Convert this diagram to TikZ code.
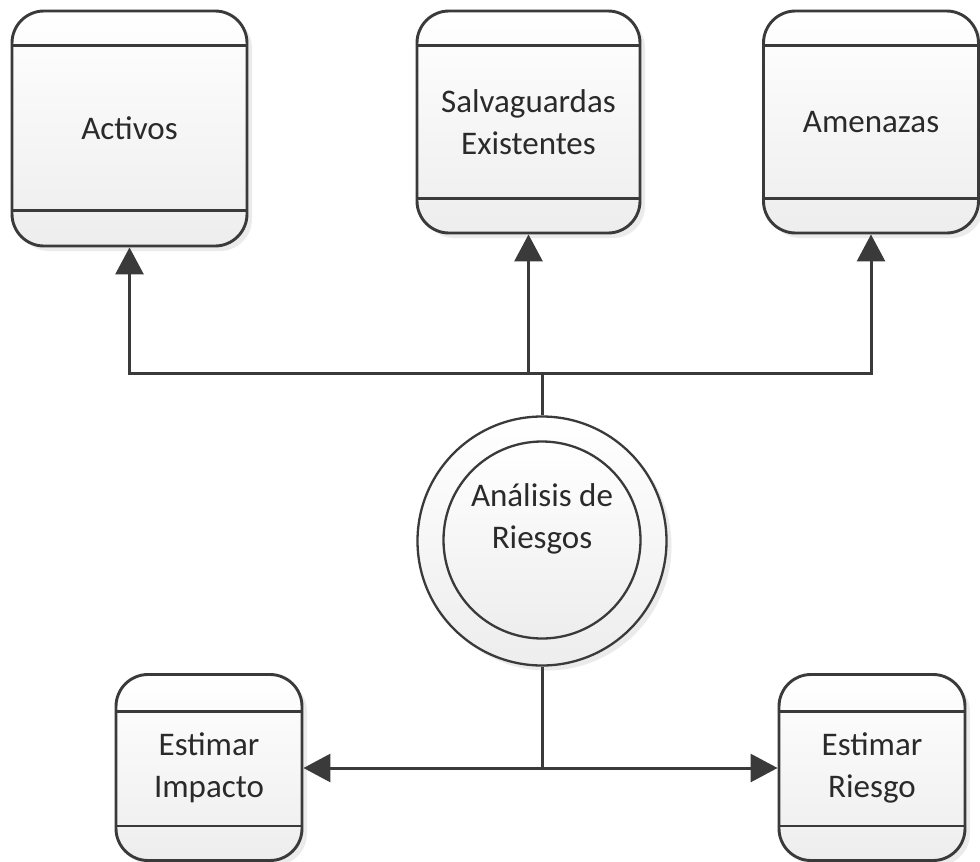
\documentclass[tikz,border=0pt]{standalone}
\usepackage{fontspec}
\setmainfont{Carlito}
\usetikzlibrary{arrows.meta,calc,shadows}
\definecolor{ln}{HTML}{3A3A3A}
\definecolor{tx}{HTML}{2A2A2A}
\begin{document}
\begin{tikzpicture}[x=1pt,y=-1pt,
  lbl/.style={font=\fontsize{33}{42}\selectfont, text=tx, align=center},
  box/.style={lbl, draw=ln, line width=2.9pt, rounded corners=32pt,
    top color=white, bottom color=black!7, inner sep=0pt,
    drop shadow={shadow xshift=5pt, shadow yshift=-5pt, fill=black!8, opacity=1}},
  sep/.style={draw=ln, line width=2.9pt},
  circ/.style={circle, draw=ln, line width=2.3pt, inner sep=0pt,
    top color=white, bottom color=black!7},
  wire/.style={draw=ln, line width=3pt},
  arr/.style={wire, -{Triangle[length=27pt,width=28pt]}}
]
\useasboundingbox[fill=white] (0,0) rectangle (980,862);

% boxes
\node[box, minimum width=235pt, minimum height=235pt] (activos) at (129.5,128.5) {Activos};
\node[box, minimum width=223pt, minimum height=222pt] (salv) at (528.5,122) {Salvaguardas\\Existentes};
\node[box, minimum width=215pt, minimum height=222pt] (amen) at (871,122) {Amenazas};
\node[box, minimum width=186pt, minimum height=186pt] (impacto) at (209,767.5) {Estimar\\Impacto};
\node[box, minimum width=186pt, minimum height=186pt] (riesgo) at (872,767.5) {Estimar\\Riesgo};

% header / footer separators
\foreach \n/\h in {activos/36, salv/36, amen/36, impacto/38, riesgo/38}{
  \draw[sep] ($(\n.north west)+(0,\h)$) -- ($(\n.north east)+(0,\h)$);
}
\foreach \n/\h in {activos/37, salv/36, amen/36, impacto/36, riesgo/36}{
  \draw[sep] ($(\n.south west)+(0,-\h)$) -- ($(\n.south east)+(0,-\h)$);
}

% process circle
\node[circ, minimum size=249pt,
  drop shadow={shadow xshift=5pt, shadow yshift=-5pt, fill=black!8, opacity=1}] (proc) at (542,541) {};
\node[circ, minimum size=197pt] (procin) at (542,540) {};
\node[lbl] (proctxt) at (542,519) {Análisis de\\Riesgos};

% connectors
\coordinate (jtop) at (542,373);
\coordinate (jbot) at (542,768);
\draw[wire] (proc.north) -- (jtop);
\draw[arr] (jtop) -| (activos.south);
\draw[arr] (jtop) -| (salv.south);
\draw[arr] (jtop) -| (amen.south);
\draw[wire] (proc.south) -- (jbot);
\draw[arr] (jbot) -- (jbot -| impacto.east);
\draw[arr] (jbot) -- (jbot -| riesgo.west);
\end{tikzpicture}
\end{document}
